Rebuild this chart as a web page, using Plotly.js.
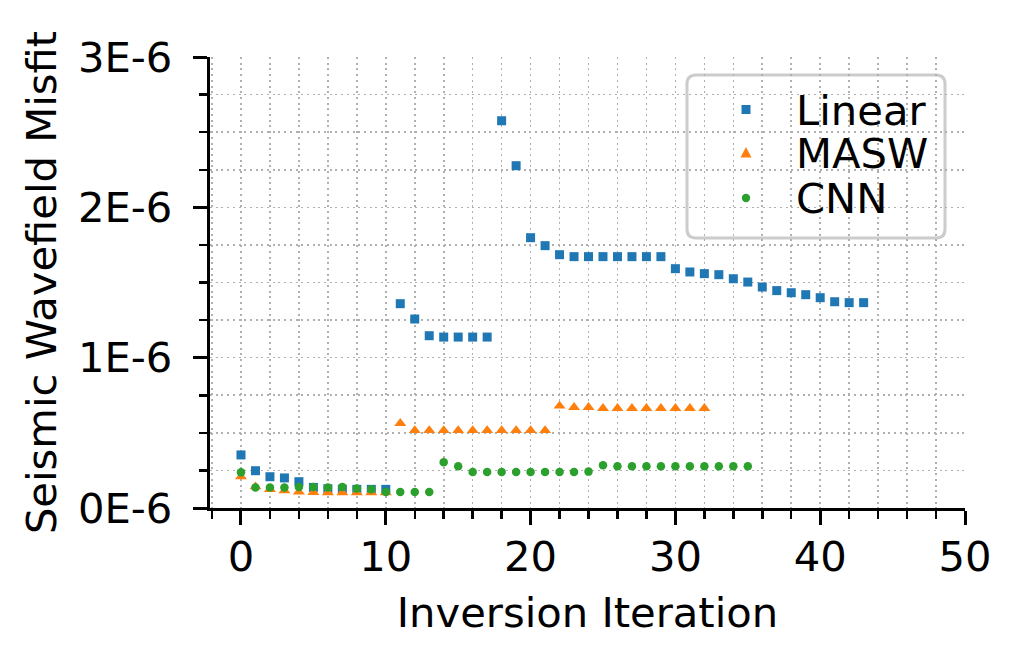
<!DOCTYPE html>
<html>
<head>
<meta charset="utf-8">
<script src="https://cdn.plot.ly/plotly-3.0.1.min.js"></script>
<style>html,body{margin:0;padding:0;background:#fff;}#chart{width:1022px;height:665px;}</style>
</head>
<body>
<div id="chart"></div>
<script>
const linearIter = [0,1,2,3,4,5,6,7,8,9,10,11,12,13,14,15,16,17,18,19,20,21,22,23,24,25,26,27,28,29,30,31,32,33,34,35,36,37,38,39,40,41,42,43];
const linearMisfit = [0.353,0.248,0.208,0.200,0.175,0.137,0.128,0.125,0.124,0.124,0.124,1.359,1.257,1.146,1.137,1.137,1.137,1.137,2.576,2.277,1.798,1.745,1.685,1.672,1.672,1.672,1.672,1.672,1.672,1.672,1.592,1.570,1.559,1.552,1.525,1.503,1.470,1.446,1.432,1.419,1.399,1.372,1.366,1.366].map(v => v*1e-6);

const maswIter = [0,1,2,3,4,5,6,7,8,9,10,11,12,13,14,15,16,17,18,19,20,21,22,23,24,25,26,27,28,29,30,31,32];
const maswMisfit = [0.208,0.142,0.124,0.115,0.108,0.104,0.103,0.103,0.103,0.103,0.102,0.563,0.516,0.516,0.516,0.516,0.516,0.516,0.516,0.516,0.516,0.516,0.679,0.670,0.670,0.663,0.663,0.663,0.663,0.663,0.663,0.663,0.663].map(v => v*1e-6);

const cnnIter = [0,1,2,3,4,5,6,7,8,9,10,11,12,13,14,15,16,17,18,19,20,21,22,23,24,25,26,27,28,29,30,31,32,33,34,35];
const cnnMisfit = [0.237,0.137,0.137,0.137,0.139,0.139,0.137,0.139,0.130,0.124,0.106,0.106,0.106,0.106,0.304,0.277,0.239,0.239,0.239,0.239,0.239,0.239,0.239,0.239,0.242,0.284,0.277,0.277,0.277,0.277,0.277,0.277,0.277,0.277,0.277,0.277].map(v => v*1e-6);

const seriesNames = ['Linear', 'MASW', 'CNN'];
const seriesColors = ['#1f77b4', '#ff7f0e', '#2ca02c'];

const yTickVals = [0, 1e-6, 2e-6, 3e-6];
const yTickText = ['0E-6', '1E-6', '2E-6', '3E-6'];

const FONT = 'DejaVu Sans, sans-serif';
const FS = 41.7;
const gridC = '#b0b0b0';
const gridDash = '2px,3.7px';

const traces = [
  {x: linearIter, y: linearMisfit, name: seriesNames[0], type: 'scatter', mode: 'markers',
   marker: {symbol: 'square', size: 9, color: seriesColors[0]}},
  {x: maswIter, y: maswMisfit, name: seriesNames[1], type: 'scatter', mode: 'markers',
   marker: {symbol: 'triangle-up', size: 10.5, color: seriesColors[1]}},
  {x: cnnIter, y: cnnMisfit, name: seriesNames[2], type: 'scatter', mode: 'markers',
   marker: {symbol: 'circle', size: 8.5, color: seriesColors[2]}}
];

// plot area geometry (px)
const L = 210, T = 57, W = 755, H = 451;
const px = v => (v - L) / W;
const py = v => (T + H - v) / H;

// legend frame (rounded)
const fx0 = px(687), fx1 = px(945), fyb = py(238), fyt = py(75);
const rx = 9 / W, ry = 9 / H;
const framePath = `M ${fx0+rx},${fyb} L ${fx1-rx},${fyb} Q ${fx1},${fyb} ${fx1},${fyb+ry} L ${fx1},${fyt-ry} Q ${fx1},${fyt} ${fx1-rx},${fyt} L ${fx0+rx},${fyt} Q ${fx0},${fyt} ${fx0},${fyt-ry} L ${fx0},${fyb+ry} Q ${fx0},${fyb} ${fx0+rx},${fyb} Z`;

const legRowY = [109.5, 153, 198];
const legMarkX = 746, legTextX = 794;

const shapes = [{type: 'path', xref: 'paper', yref: 'paper', path: framePath,
  fillcolor: 'rgba(255,255,255,0.8)', line: {color: '#cccccc', width: 3}, layer: 'between'}];
// legend symbols
shapes.push({type: 'rect', xref: 'paper', yref: 'paper', xsizemode: 'pixel', ysizemode: 'pixel',
  xanchor: px(legMarkX), yanchor: py(legRowY[0]), x0: -4.5, x1: 4.5, y0: -4.5, y1: 4.5,
  fillcolor: seriesColors[0], line: {width: 0}, layer: 'above'});
shapes.push({type: 'path', xref: 'paper', yref: 'paper', xsizemode: 'pixel', ysizemode: 'pixel',
  xanchor: px(legMarkX), yanchor: py(legRowY[1]), path: 'M -5.5,-4.5 L 5.5,-4.5 L 0,6 Z',
  fillcolor: seriesColors[1], line: {width: 0}, layer: 'above'});
shapes.push({type: 'circle', xref: 'paper', yref: 'paper', xsizemode: 'pixel', ysizemode: 'pixel',
  xanchor: px(legMarkX), yanchor: py(legRowY[2]), x0: -4.2, x1: 4.2, y0: -4.2, y1: 4.2,
  fillcolor: seriesColors[2], line: {width: 0}, layer: 'above'});

const annotations = seriesNames.map((n, i) => ({
  text: n, xref: 'paper', yref: 'paper', x: px(legTextX), y: py(legRowY[i]),
  xanchor: 'left', yanchor: 'middle', showarrow: false, height: 34, valign: 'middle',
  font: {family: FONT, size: FS, color: '#000'}
}));

const layout = {
  width: 1022, height: 665,
  margin: {l: L, r: 1022 - L - W, t: T, b: 665 - T - H},
  paper_bgcolor: '#fff', plot_bgcolor: '#fff',
  font: {family: FONT, size: FS, color: '#000'},
  showlegend: false,
  shapes: shapes,
  annotations: annotations,
  xaxis: {
    range: [-2.14, 50], tick0: 0, dtick: 10,
    ticks: 'outside', ticklen: 14, tickwidth: 3, tickcolor: '#000',
    showline: true, linecolor: '#000', linewidth: 3.3,
    showgrid: true, gridcolor: gridC, griddash: gridDash, gridwidth: 1.6,
    zeroline: false, ticklabelstandoff: -4,
    tickfont: {family: FONT, size: FS},
    minor: {dtick: 2, tick0: 0, ticks: 'outside', ticklen: 8, tickwidth: 2.5, tickcolor: '#000',
            showgrid: true, gridcolor: gridC, griddash: gridDash, gridwidth: 1.6},
    title: {text: 'Inversion Iteration', font: {family: FONT, size: FS}, standoff: 18},
    automargin: false
  },
  yaxis: {
    range: [0, 3e-6], tickvals: yTickVals, ticktext: yTickText,
    ticks: 'outside', ticklen: 14, tickwidth: 3, tickcolor: '#000',
    showline: true, linecolor: '#000', linewidth: 3.3,
    showgrid: true, gridcolor: gridC, griddash: gridDash, gridwidth: 1.6,
    zeroline: false, ticklabelstandoff: 12,
    tickfont: {family: FONT, size: FS},
    minor: {dtick: 0.25e-6, tick0: 0, ticks: 'outside', ticklen: 8, tickwidth: 2.5, tickcolor: '#000',
            showgrid: true, gridcolor: gridC, griddash: gridDash, gridwidth: 1.6},
    title: {text: 'Seismic Wavefield Misfit', font: {family: FONT, size: FS}, standoff: 9},
    automargin: false
  }
};

Plotly.newPlot('chart', traces, layout, {displayModeBar: false, staticPlot: true});
</script>
</body>
</html>
